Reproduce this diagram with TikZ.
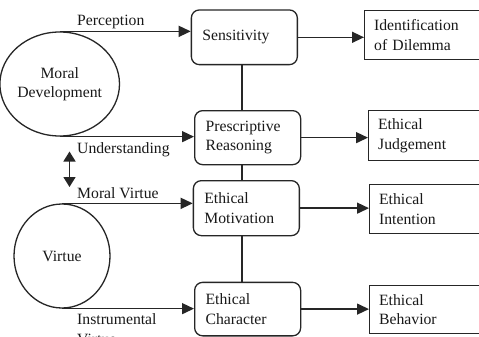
\documentclass[tikz,border=0pt]{standalone}
\usepackage{fontspec}
\setmainfont{Liberation Serif}
\usetikzlibrary{arrows.meta,shapes.geometric}
\begin{document}
\begin{tikzpicture}[x=1pt,y=-1pt,
  every node/.style={font=\fontsize{15.7}{19.5}\selectfont, text=black!90},
  ln/.style={line width=1.4pt, draw=black!85},
  arr/.style={ln, -{Triangle[length=12pt,width=11pt]}},
  midbox/.style={draw=black!85, line width=1.3pt, rounded corners=8pt, anchor=north west, inner xsep=11pt, inner ysep=0pt, align=left, text width=84pt, minimum width=106pt},
  rbox/.style={draw=black!85, line width=1.3pt, anchor=north west, inner xsep=9.5pt, inner ysep=0pt, align=left, text width=121pt, minimum width=140pt},
  circ/.style={ellipse, draw=black!85, line width=1.3pt, inner sep=0pt, minimum width=96pt, minimum height=104pt, align=center},
  lab/.style={anchor=base west, inner sep=0pt}]
\useasboundingbox (0,0) rectangle (479,337);
\fill[white] (0,0) rectangle (479,337);
\clip (0,0) rectangle (479,337);

% middle column
\node[midbox, minimum height=54.7pt] (sens) at (190.7,9.3) {Sensitivity};
\node[midbox, minimum height=54pt] (pr) at (194,110) {Prescriptive\\Reasoning};
\node[midbox, minimum height=55pt] (em) at (192.7,180) {Ethical\\Motivation};
\node[midbox, minimum height=53.5pt] (ec) at (194,281.7) {Ethical\\Character};

% right column
\node[rbox, minimum height=49pt] (id) at (364,10) {Identification\\of Dilemma};
\node[rbox, minimum height=50pt] (ej) at (368,110) {Ethical\\Judgement};
\node[rbox, minimum height=49pt] (ei) at (369,184) {Ethical\\Intention};
\node[rbox, minimum height=48pt] (eb) at (369,285) {Ethical\\Behavior};

% circles
\node[circ] (md) at (59.7,84) {Moral\\Development};
\node[circ] (vir) at (62,256) {Virtue};

% labels
\node[lab] (lp) at (77,26) {Perception};
\node[lab] (lu) at (77,153) {Understanding};
\node[lab] (lm) at (77,198.7) {Moral Virtue};
\node[lab] (li) at (77,324.7) {\vtop{\hbox{Instrumental}\hbox{Virtue}}};

% circle to middle
\draw[arr] (md.north) -- (md.north -| sens.west);
\draw[arr] (md.south) -- (md.south -| pr.west);
\draw[arr] (vir.north) -- (vir.north -| em.west);
\draw[arr] (vir.south) -- (vir.south -| ec.west);

% middle to right
\draw[arr] (sens.east) -- (sens.east -| id.west);
\draw[arr] (pr.east) -- (pr.east -| ej.west);
\draw[arr] (em.east) -- (em.east -| ei.west);
\draw[arr] (ec.east) -- (ec.east -| eb.west);

% vertical chain
\coordinate (vx) at (242,0);
\draw[ln] (sens.south -| vx) -- (pr.north -| vx);
\draw[ln] (pr.south -| vx) -- (em.north -| vx);
\draw[ln] (em.south -| vx) -- (ec.north -| vx);

% double arrow
\coordinate (dt) at (69.5,151.5);
\coordinate (db) at (69.5,187);
\draw[ln, {Triangle[length=10pt,width=12pt]}-{Triangle[length=10pt,width=12pt]}] (dt) -- (db);
\end{tikzpicture}
\end{document}
